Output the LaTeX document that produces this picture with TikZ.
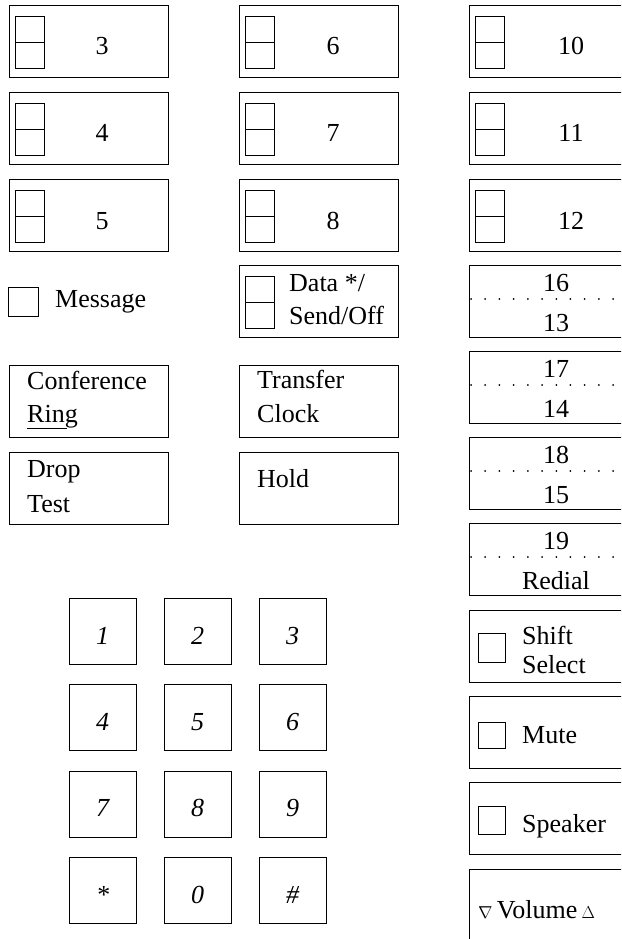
\documentclass[tikz,border=0pt]{standalone}
\usepackage{fontspec}
\setmainfont{Liberation Serif}
\usetikzlibrary{calc}
\tikzset{
  outer/.style={draw, line width=0.9pt, minimum width=159pt, minimum height=72pt, anchor=north west, inner sep=0pt},
  innerbox/.style={draw, line width=0.9pt, minimum width=29pt, minimum height=52pt, anchor=north west, inner sep=0pt},
  tinybox/.style={draw, line width=0.9pt, minimum width=27pt, minimum height=28pt, anchor=north west, inner sep=0pt},
  keybox/.style={draw, line width=0.9pt, minimum width=67pt, minimum height=66pt, anchor=north west, inner sep=0pt},
  lbl/.style={font=\fontsize{26}{31}\selectfont, inner sep=0pt, anchor=base},
  lblw/.style={lbl, anchor=base west},
  dotline/.style={line width=2pt, dash pattern=on 0.01pt off 14.2pt, line cap=round},
}
\newcommand\splitkey[6]{%
  \node[outer, minimum width=#4] (#1) at (#2,#3) {};
  \node[innerbox] (#1i) at ($(#1.north west)+(6,11)$) {};
  \draw[line width=0.9pt] (#1i.west) -- (#1i.east);
  \node[lbl] (#1t) at ($(#1.north west)+(#5,50)$) {#6};
}
\newcommand\dotkey[4]{%
  \node[outer, minimum width=171pt] (#1) at (469,#2) {};
  \draw[dotline] ($(#1.west)+(2,-2)$) -- ($(#1.east)+(0,-2)$);
  \node[lbl] (#1a) at ($(#1.north west)+(87,26)$) {#3};
  \node[lbl] (#1b) at ($(#1.north west)+(87,66)$) {#4};
}
\begin{document}
\begin{tikzpicture}[x=1pt,y=-1pt]
\useasboundingbox (0,0) rectangle (621,939);
\clip (0,0) rectangle (621,939);

% column 1
\splitkey{k3}{9}{5}{159pt}{93}{3}
\splitkey{k4}{9}{92}{159pt}{93}{4}
\splitkey{k5}{9}{179}{159pt}{93}{5}
% column 2
\splitkey{k6}{239}{5}{159pt}{94}{6}
\splitkey{k7}{239}{92}{159pt}{94}{7}
\splitkey{k8}{239}{179}{159pt}{94}{8}
% column 3
\splitkey{k10}{469}{5}{171pt}{102}{10}
\splitkey{k11}{469}{92}{171pt}{102}{11}
\splitkey{k12}{469}{179}{171pt}{102}{12}

% message
\node[tinybox, minimum width=30pt, minimum height=29pt] (msgbox) at (8,287) {};
\node[lblw] (msg) at (55,307) {Message};

% data
\node[outer] (data) at (239,265) {};
\node[innerbox] (datai) at (245,276) {};
\draw[line width=0.9pt] (datai.west) -- (datai.east);
\node[lblw] (data1) at (289,291) {Data */};
\node[lblw] (data2) at (289,324) {Send/Off};

% conference / ring
\node[outer] (conf) at (9,365) {};
\node[lblw] (conft) at (27,389) {Conference};
\node[lblw] (ring) at (27,422) {Ring};
\draw[line width=1pt] ($(ring.base west)+(0,6)$) -- ++(40,0);

% transfer / clock
\node[outer] (trans) at (239,365) {};
\node[lblw] (transt) at (257,388) {Transfer};
\node[lblw] (clock) at (257,422) {Clock};

% drop / test
\node[outer] (drop) at (9,452) {};
\node[lblw] (dropt) at (27,477) {Drop};
\node[lblw] (test) at (27,512) {Test};

% hold
\node[outer] (hold) at (239,452) {};
\node[lblw] (holdt) at (257,487) {Hold};

% dotted keys
\dotkey{d16}{265}{16}{13}
\dotkey{d17}{351}{17}{14}
\dotkey{d18}{437}{18}{15}
\dotkey{d19}{523}{19}{Redial}

% shift select
\node[outer, minimum width=171pt] (shift) at (469,610) {};
\node[tinybox, minimum height=29pt] (shiftb) at (478,633) {};
\node[lblw] (shift1) at (522,644) {Shift};
\node[lblw] (shift2) at (522,673) {Select};

% mute
\node[outer, minimum width=171pt] (mute) at (469,696) {};
\node[tinybox, minimum height=26pt] (muteb) at (478,722) {};
\node[lblw] (mutet) at (522,743) {Mute};

% speaker
\node[outer, minimum width=171pt] (spk) at (469,782) {};
\node[tinybox] (spkb) at (478,806) {};
\node[lblw] (spkt) at (522,832) {Speaker};

% volume
\node[outer, minimum width=171pt] (vol) at (469,869) {};
\node[lblw] (volt) at (478,918) {$\scriptstyle\nabla$\,Volume\,$\scriptstyle\Delta$};

% keypad
\foreach \lab [count=\i from 0] in {1,2,3,4,5,6,7,8,9,{*},0,{\#}} {
  \pgfmathtruncatemacro\col{mod(\i,3)}
  \pgfmathtruncatemacro\row{int(\i/3)}
  \pgfmathsetmacro\kx{69+95*\col}
  \pgfmathsetmacro\ky{598+86.33*\row}
  \node[keybox] (pad\i) at (\kx,\ky) {};
  \node[lbl, font=\fontsize{26}{31}\selectfont\itshape] (pad\i t) at ($(pad\i.north west)+(33.5,46)$) {\lab};
}
\end{tikzpicture}
\end{document}
